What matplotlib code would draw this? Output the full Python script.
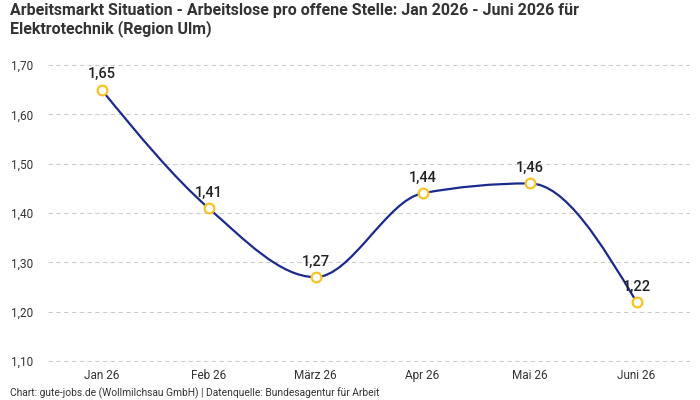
import numpy as np
import matplotlib
matplotlib.use("Agg")
import matplotlib.pyplot as plt
from matplotlib.path import Path
from matplotlib.patches import PathPatch
from matplotlib.ticker import FuncFormatter

plt.rcParams['font.family'] = ['Roboto', 'DejaVu Sans']

# data
months = ["Jan 26", "Feb 26", "März 26", "Apr 26", "Mai 26", "Juni 26"]
values = [1.65, 1.41, 1.27, 1.44, 1.46, 1.22]

title = "Arbeitsmarkt Situation - Arbeitslose pro offene Stelle: Jan 2026 - Juni 2026 für\nElektrotechnik (Region Ulm)"
source = "Chart: gute-jobs.de (Wollmilchsau GmbH) | Datenquelle: Bundesagentur für Arbeit"

line_col = "#1b2a8c"
dot_col = "#f7c325"


def monotone_path(x, y):
    # monotone cubic (like d3 curveMonotoneX) -> bezier path
    x = np.asarray(x, float); y = np.asarray(y, float)
    n = len(x)
    t = np.zeros(n)
    for i in range(1, n - 1):
        h0 = x[i] - x[i - 1]; h1 = x[i + 1] - x[i]
        s0 = (y[i] - y[i - 1]) / h0; s1 = (y[i + 1] - y[i]) / h1
        p = (s0 * h1 + s1 * h0) / (h0 + h1)
        t[i] = (np.sign(s0) + np.sign(s1)) * min(abs(s0), abs(s1), 0.5 * abs(p))
    t[0] = (3 * (y[1] - y[0]) / (x[1] - x[0]) - t[1]) / 2
    t[-1] = (3 * (y[-1] - y[-2]) / (x[-1] - x[-2]) - t[-2]) / 2
    verts = [(x[0], y[0])]
    codes = [Path.MOVETO]
    for i in range(n - 1):
        dx = (x[i + 1] - x[i]) / 3
        verts += [(x[i] + dx, y[i] + dx * t[i]),
                  (x[i + 1] - dx, y[i + 1] - dx * t[i + 1]),
                  (x[i + 1], y[i + 1])]
        codes += [Path.CURVE4] * 3
    return Path(verts, codes)


fig = plt.figure(figsize=(7, 4), dpi=100)
ax = fig.add_axes([48 / 700, 1 - 362 / 400, 642 / 700, 298 / 400])

xs = np.arange(len(months))
ax.add_patch(PathPatch(monotone_path(xs, values), fill=False, edgecolor=line_col, lw=1.6, zorder=3))
ax.plot(xs, values, ls="none", marker="o", ms=7, mfc="white", mec=dot_col, mew=1.6, zorder=4)

for xi, v in zip(xs, values):
    ax.annotate(f"{v:.2f}".replace(".", ","), (xi, v), xytext=(0, 6), textcoords="offset points",
                ha="center", va="bottom", fontsize=10.5, fontweight="medium", color="#222222", zorder=5)

ax.set_xlim(-0.5, len(months) - 0.5)
ax.set_ylim(1.098, 1.702)
ax.set_yticks([1.1, 1.2, 1.3, 1.4, 1.5, 1.6, 1.7])
ax.yaxis.set_major_formatter(FuncFormatter(lambda v, p: f"{v:.2f}".replace(".", ",")))
ax.set_xticks(xs)
ax.set_xticklabels(months)
ax.tick_params(axis="both", length=0, labelsize=8.5, colors="#333333")
ax.tick_params(axis="y", pad=11)
ax.tick_params(axis="x", pad=5)
for s in ax.spines.values():
    s.set_visible(False)
ax.yaxis.grid(True, color="#cccccc", lw=0.8, ls=(0, (4, 3)))
ax.set_axisbelow(True)

fig.text(10 / 700, 1 - 3 / 400, title, ha="left", va="top", fontsize=11.5, fontweight="bold",
         color="#333333", linespacing=1.15)
fig.text(10 / 700, 1 - 396 / 400, source, ha="left", va="baseline", fontsize=7.4, color="#333333")

fig.savefig("out.png", dpi=100)
